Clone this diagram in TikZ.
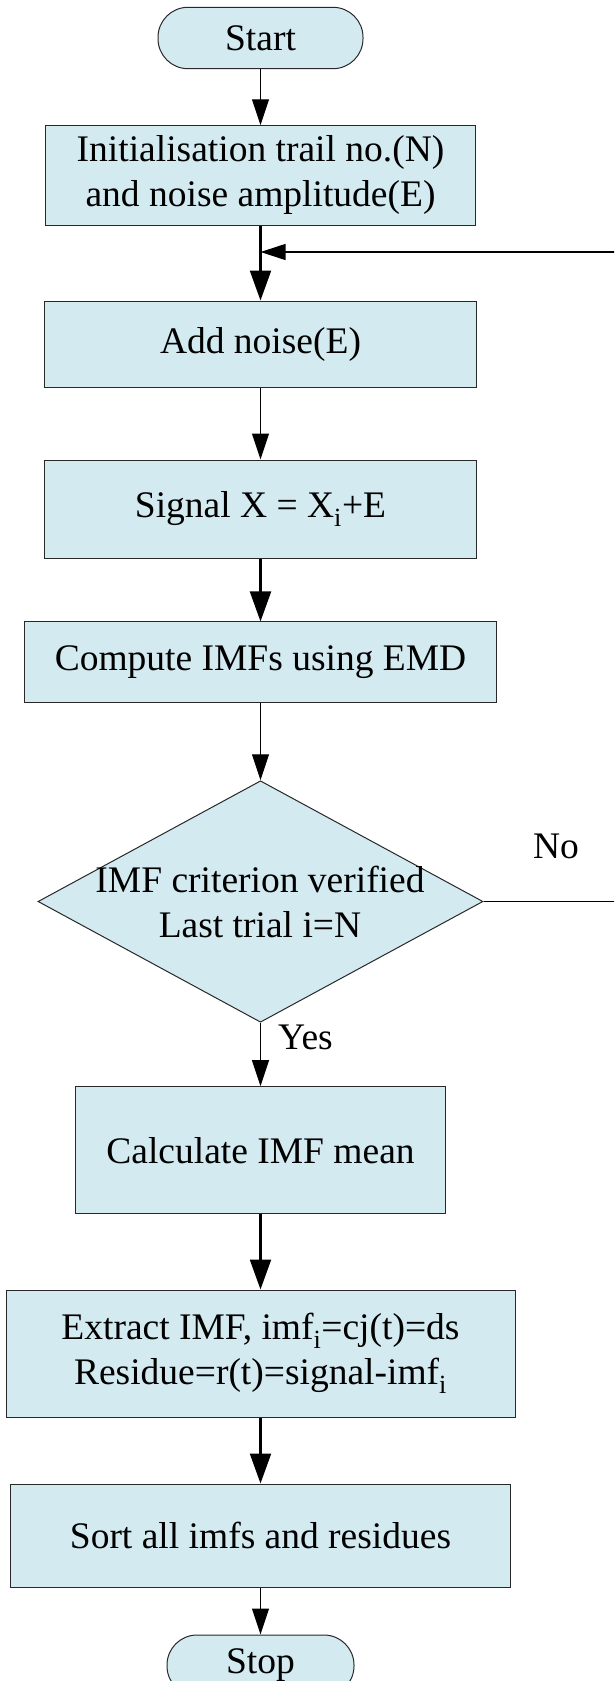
\documentclass[tikz,border=0pt]{standalone}
\usepackage{fontspec}
\setmainfont{Liberation Serif}
\usetikzlibrary{arrows.meta,shapes.geometric}
\definecolor{boxfill}{RGB}{211,234,240}
\definecolor{boxline}{RGB}{40,40,40}
\tikzset{
  txt/.style={font=\fontsize{37.5pt}{45pt}\selectfont, align=center, inner sep=0pt},
  procbox/.style={txt, draw=boxline, fill=boxfill, line width=1pt, rectangle},
  termbox/.style={procbox, rounded corners=30pt},
  decbox/.style={diamond, draw=boxline, fill=boxfill, line width=1pt, inner sep=0pt},
  thinarrow/.style={line width=1.1pt, -{Triangle[length=26pt,width=17pt]}},
  thickarrow/.style={line width=2.2pt, -{Triangle[length=30pt,width=21pt]}},
  fbline/.style={line width=1.5pt},
  fbarrow/.style={line width=1.1pt, -{Triangle[length=25pt,width=16pt]}},
}
\begin{document}
\begin{tikzpicture}[x=1pt,y=-1pt]
\useasboundingbox (0,0) rectangle (614,1681);
\clip (0,0) rectangle (614,1681);

\node[termbox, minimum width=205pt, minimum height=61.4pt] (start) at (260.5,38) {Start};
\node[procbox, minimum width=430pt, minimum height=99.3pt] (init) at (260.5,175.4) {Initialisation trail no.(N)\\and noise amplitude(E)};
\node[procbox, minimum width=431.5pt, minimum height=86pt] (addn) at (260.5,344) {Add noise(E)};
\node[procbox, minimum width=431.5pt, minimum height=98pt] (sig) at (260.5,509) {Signal X = X\textsubscript{i}+E};
\node[procbox, minimum width=471.5pt, minimum height=80.7pt] (emd) at (260.5,662.3) {Compute IMFs using EMD};
\node[decbox, minimum width=445pt, minimum height=241.5pt] (dec) at (260.5,901.5) {};
\node[txt] (dectext) at (260,901.5) {IMF criterion verified\\Last trial i=N};
\node[procbox, minimum width=370pt, minimum height=127.3pt] (mean) at (260.5,1150.3) {Calculate IMF mean};
\node[procbox, minimum width=509pt, minimum height=127pt] (extr) at (260.5,1353.5) {Extract IMF, imf\textsubscript{i}=cj(t)=ds\\Residue=r(t)=signal-imf\textsubscript{i}};
\node[procbox, minimum width=499.4pt, minimum height=103pt] (sort) at (260.5,1535.5) {Sort all imfs and residues};
\node[termbox, minimum width=187pt, minimum height=61pt] (stop) at (260.5,1665.5) {Stop};

\draw[thinarrow] (start) -- (init);
\draw[thickarrow] (init) -- (addn);
\draw[thinarrow] (addn) -- (sig);
\draw[thickarrow] (sig) -- (emd);
\draw[thinarrow] (emd) -- (dec);
\draw[thinarrow] (dec) -- (mean);
\draw[thickarrow] (mean) -- (extr);
\draw[thickarrow] (extr) -- (sort);
\draw[thinarrow] (sort) -- (stop);

\coordinate (fbR) at (640,901.5);
\coordinate (fbT) at (640,252);
\coordinate (join) at (260.5,252);
\draw[fbline] (dec.east) -- (fbR) -- (fbT);
\draw[fbarrow] (fbT) -- (join);

\node[txt, anchor=base] (no) at (556,858) {No};
\node[txt, anchor=base west] (yes) at (278,1049) {Yes};
\end{tikzpicture}
\end{document}
